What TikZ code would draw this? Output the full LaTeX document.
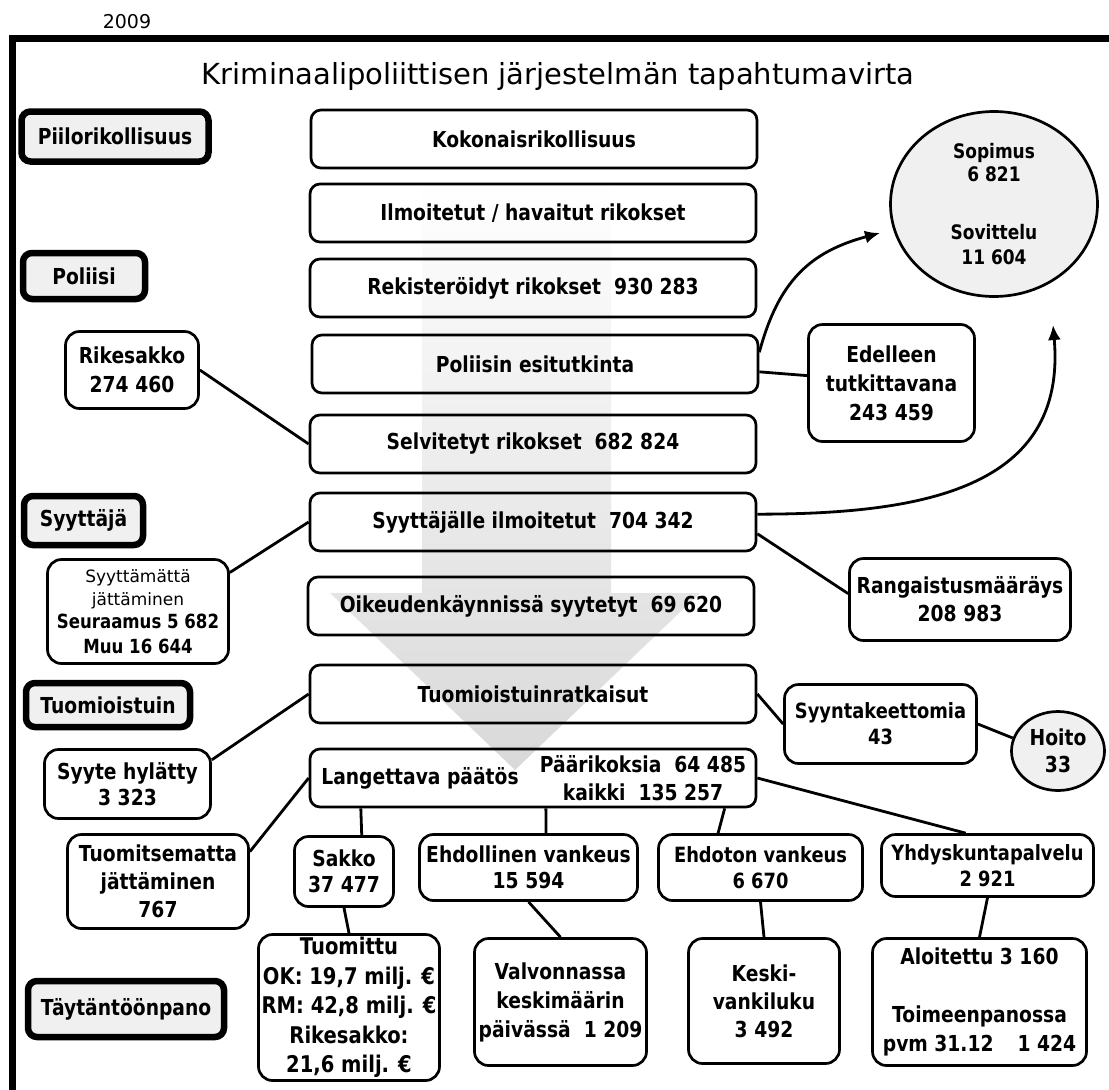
\documentclass[tikz,border=0pt]{standalone}
\usepackage{fontspec}
\setmainfont{DejaVu Sans}
\newfontfamily\tahomish{DejaVu Sans}[FakeStretch=0.85]
\newcommand\thintext{\normalfont\fontsize{17}{20}\selectfont}
\newcommand\midtext{\tahomish\bfseries\fontsize{19.5}{22}\selectfont}
\usetikzlibrary{arrows.meta,shapes.geometric}
\tikzset{
  txt/.style={font=\tahomish\bfseries\fontsize{22}{29}\selectfont, align=center, inner sep=0pt},
  plain/.style={font=\tahomish\bfseries\fontsize{21}{29}\selectfont},
  flow/.style={txt, draw, line width=2.7pt, rounded corners=10pt, minimum width=446pt, minimum height=58pt},
  side/.style={txt, draw, line width=2.7pt, rounded corners=14pt, fill=white},
  stage/.style={txt, draw, line width=6.5pt, rounded corners=9pt, fill=gray!12},
  pool/.style={txt, draw, ellipse, line width=2.7pt, fill=gray!12},
  link/.style={line width=2.8pt},
  flowarrow/.style={link, -{Latex[length=15pt,width=13pt]}}
}
\begin{document}
\begin{tikzpicture}[x=1pt, y=-1pt]
\useasboundingbox (0,0) rectangle (1109,1090);
\shade[top color=white, bottom color=black!15] (422,180) -- (611,180) -- (611,593) -- (700,593) -- (515,770) -- (330,593) -- (422,593) -- cycle;
\draw[line width=7pt] (12.5,1090) |- (1109,38.5);
\node[font=\fontsize{19}{23}\selectfont] (year) at (127,22) {2009};
\node[font=\fontsize{29}{35}\selectfont, anchor=base] (title) at (558,84) {Kriminaalipoliittisen järjestelmän tapahtumavirta};

\node[flow] (total) at (534,139) {Kokonaisrikollisuus};
\node[flow] (reported) at (533,213) {Ilmoitetut / havaitut rikokset};
\node[flow] (registered) at (533,288) {Rekisteröidyt rikokset~~930 283};
\node[flow] (investigation) at (535,364) {Poliisin esitutkinta};
\node[flow] (solved) at (533,444) {Selvitetyt rikokset~~682 824};
\node[flow] (prosecutor) at (533,522) {Syyttäjälle ilmoitetut~~704 342};
\node[flow] (charged) at (531,606) {Oikeudenkäynnissä syytetyt~~69 620};
\node[flow] (court) at (533,694) {Tuomioistuinratkaisut};
\node[flow] (guilty) at (533,778) {};
\node[txt] (guiltylabel) at (420,778) {Langettava päätös};
\node[txt] (guiltycount) at (643,778) {Päärikoksia~~64 485\\[-1pt]kaikki~~135 257};

\node[stage, minimum width=187pt, minimum height=50pt] (hidden) at (115,136.5) {Piilorikollisuus};
\node[stage, minimum width=122pt, minimum height=46pt] (police) at (84,276) {Poliisi};
\node[stage, minimum width=119pt, minimum height=49pt] (prosecution) at (83.5,520.5) {Syyttäjä};
\node[stage, minimum width=164pt, minimum height=44pt] (courts) at (108,705) {Tuomioistuin};
\node[stage, minimum width=196pt, minimum height=56pt] (enforcement) at (126,1009) {Täytäntöönpano};

\node[pool, minimum width=207pt, minimum height=185pt, font=\tahomish\bfseries\fontsize{20}{29}\selectfont] (mediation) at (994,204) {Sopimus\\[-6pt]6 821\\[29pt]Sovittelu\\[-4pt]11 604};
\node[side, minimum width=133pt, minimum height=77pt] (fine) at (132,370) {Rikesakko\\274 460};
\node[side, minimum width=166pt, minimum height=117pt] (ongoing) at (891.5,383) {Edelleen\\tutkittavana\\243 459};
\node[side, minimum width=181pt, minimum height=104pt] (waived) at (138,611.5) {{\thintext Syyttämättä}\\[-6pt]{\thintext jättäminen}\\[-6pt]{\midtext Seuraamus 5 682}\\[-4pt]{\midtext Muu 16 644}};
\node[side, minimum width=221pt, minimum height=82pt] (order) at (960,599.5) {Rangaistusmääräys\\[-1pt]208 983};
\node[side, minimum width=166pt, minimum height=69pt] (dismissed) at (127.5,784) {Syyte hylätty\\[-3pt]3 323};
\node[side, plain, minimum width=192pt, minimum height=79pt] (insane) at (880.5,724) {Syyntakeettomia\\[-3pt]43};
\node[pool, minimum width=93pt, minimum height=79pt] (care) at (1058,751) {Hoito\\[-2pt]33};
\node[side, minimum width=181pt, minimum height=94pt] (unsentenced) at (158,881.5) {Tuomitsematta\\[-1pt]jättäminen\\[-1pt]767};
\node[side, minimum width=99pt, minimum height=70pt] (fines) at (344,871.5) {Sakko\\[-3pt]37 477};
\node[side, minimum width=218pt, minimum height=66pt] (suspended) at (528.5,867.5) {Ehdollinen vankeus\\[-3pt]15 594};
\node[side, plain, minimum width=204pt, minimum height=66pt] (prison) at (760.5,867.5) {Ehdoton vankeus\\[-3pt]6 670};
\node[side, plain, minimum width=212pt, minimum height=62pt] (service) at (987.5,865.5) {Yhdyskuntapalvelu\\[-3pt]2 921};
\node[side, minimum width=181pt, minimum height=146pt, font=\tahomish\bfseries\fontsize{23}{29.5}\selectfont] (sentenced) at (349,1007.5) {Tuomittu\\OK: 19,7 milj. €\\RM: 42,8 milj. €\\Rikesakko:\\21,6 milj. €};
\node[side, minimum width=172pt, minimum height=127pt] (supervised) at (560.5,1002) {Valvonnassa\\keskimäärin\\päivässä~~1 209};
\node[side, minimum width=151pt, minimum height=125pt] (inmates) at (764,1001) {Keski-\\[-1pt]vankiluku\\[-1pt]3 492};
\node[side, minimum width=214pt, minimum height=127pt] (started) at (979.5,1002) {Aloitettu 3 160\\[29pt]Toimeenpanossa\\pvm 31.12\hspace{24pt}1 424};

\coordinate (mediationleft) at (880,233);
\coordinate (mediationbelow) at (1053,325);
\draw[flowarrow] (investigation.3) to[out=75, in=195, looseness=1.1] (mediationleft);
\draw[flowarrow] (prosecutor.2) to[out=0, in=-85, looseness=1.2] (mediationbelow);
\draw[link] (fine.east) -- (solved.west);
\draw[link] (investigation.-2) -- (ongoing.175);
\draw[link] (prosecutor.-3) -- (order.177);
\draw[link] (prosecutor.west) -- (waived.23);
\draw[link] (court.west) -- (dismissed.16);
\draw[link] (court.east) -- (insane.west);
\draw[link] (insane.east) -- (care.164);
\draw[link] (guilty.west) -- (unsentenced.18);
\draw[link] (guilty.190) -- (fines.64);
\draw[link] (guilty.-67) -- (suspended.63);
\draw[link] (guilty.-9) -- (prison.141);
\draw[link] (guilty.east) -- (service.124);
\draw[link] (fines.south) -- (sentenced.north);
\draw[link] (suspended.south) -- (supervised.north);
\draw[link] (prison.south) -- (inmates.north);
\draw[link] (service.south) -- (started.north);
\end{tikzpicture}
\end{document}
